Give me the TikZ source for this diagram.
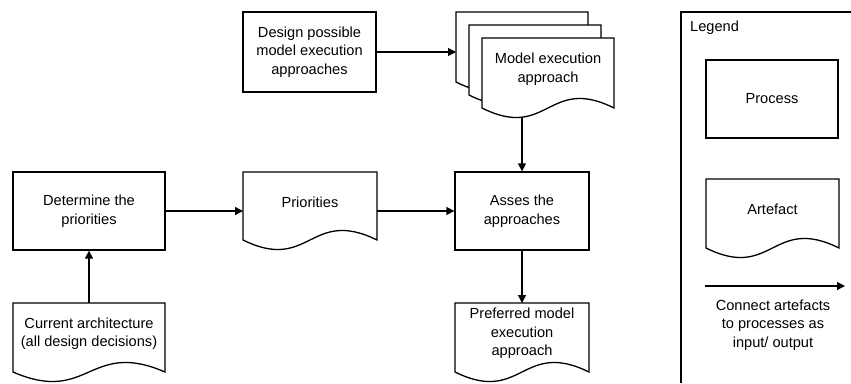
\documentclass[tikz,border=0pt]{standalone}
\usepackage{fontspec}
\setmainfont{Liberation Sans}
\usetikzlibrary{arrows.meta,calc,backgrounds}
\newcommand\docout[2][]{%
  \draw[line width=1.3pt,#1] (#2.north west) -- (#2.north east) -- ($(#2.south east)+(0,8)$)
    .. controls ($(#2.south)+(0,-25)$) and ($(#2.south)+(0,41)$) .. ($(#2.south west)+(0,8)$) -- cycle;}
\begin{document}
\begin{tikzpicture}[x=1pt,y=-1pt,
  every node/.style={font=\fontsize{14.6}{18.5}\selectfont},
  box/.style={draw,line width=1.3pt,align=center,inner sep=0pt},
  doc/.style={align=center,inner sep=0pt,outer sep=0pt},
  arr/.style={line width=1.3pt,-{Triangle[length=8pt,width=8pt]}}]
\useasboundingbox (0,0) rectangle (851,383);

% stacked artefacts
\node[doc,minimum width=132pt,minimum height=62pt] (stackA) at (522,43) {};
\node[doc,minimum width=132pt,minimum height=62pt] (stackB) at (535,56) {};
\node[doc,minimum width=132pt,minimum height=62pt] (model) at (548,69) {Model execution\\approach};
\begin{pgfonlayer}{background}
  \docout[fill=white]{stackA}
  \docout[fill=white]{stackB}
  \docout[fill=white]{model}
\end{pgfonlayer}

\node[box,minimum width=133pt,minimum height=80pt] (design) at (309.5,52) {Design possible\\model execution\\approaches};
\node[box,minimum width=152pt,minimum height=78pt] (determine) at (89,211) {Determine the\\priorities};
\node[doc,minimum width=134pt,minimum height=60pt] (prio) at (310,202) {Priorities};
\node[box,minimum width=134pt,minimum height=78pt] (asses) at (522,211) {Asses the\\approaches};
\node[doc,minimum width=152pt,minimum height=61pt] (current) at (89,333.5) {Current architecture\\(all design decisions)};
\node[doc,minimum width=134pt,minimum height=61pt] (preferred) at (522,333.5) {Preferred model\\execution\\approach};
\docout{prio}
\docout{current}
\docout{preferred}

% connectors
\draw[arr] (design.east) -- (design.east -| stackA.west);
\coordinate (modelbot) at ($(model.south)+(0,17)$);
\draw[arr] (asses.north |- modelbot) -- (asses.north);
\draw[arr] (determine.east) -- (determine.east -| prio.west);
\draw[arr] (prio.east |- asses.west) -- (asses.west);
\draw[arr] (current.north) -- (determine.south);
\draw[arr] (asses.south) -- (preferred.north);

% legend
\draw[line width=1.3pt] (851,12) -| (681,383);
\node[anchor=west,inner sep=0pt] (legend) at (690,28) {Legend};
\node[box,minimum width=132pt,minimum height=78pt] (process) at (772,99) {Process};
\node[doc,minimum width=133pt,minimum height=61pt] (artefact) at (772.5,209.5) {Artefact};
\docout{artefact}
\coordinate (la) at (705,286);
\coordinate (lb) at (845,286);
\draw[arr] (la) -- (lb);
\node[align=center] (legtext) at (773,325) {Connect artefacts\\to processes as\\input/ output};
\end{tikzpicture}
\end{document}
